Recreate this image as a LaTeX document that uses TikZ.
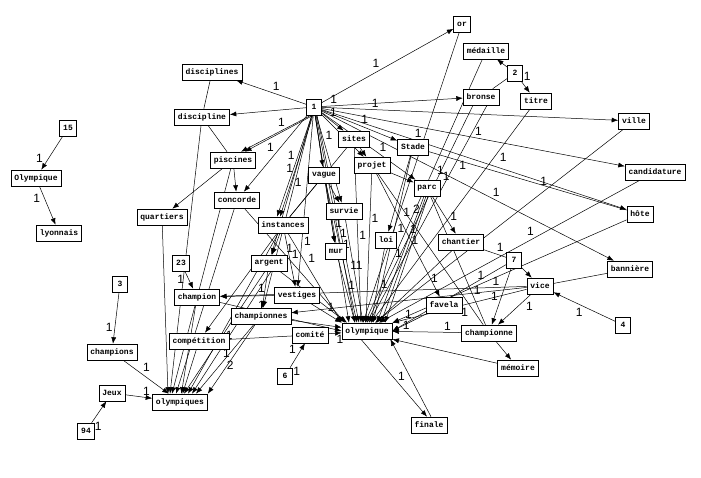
\documentclass[tikz,border=0pt]{standalone}
\usepackage{fontspec}
\setmonofont{Liberation Mono}
\setsansfont{Liberation Sans}
\usetikzlibrary{arrows.meta}
\pgfdeclarelayer{bg}
\pgfsetlayers{bg,main}
\begin{document}
\begin{tikzpicture}[x=1pt,y=-1pt,
  nd/.style={draw, line width=0.6pt, fill=white, font=\ttfamily\bfseries\fontsize{8}{9}\selectfont, inner xsep=3.5pt, inner ysep=0pt, minimum height=16pt, minimum width=15pt},
  ed/.style={-{Latex[length=6.5pt,width=5pt]}, line width=0.5pt, auto},
  pl/.style={line width=0.5pt, auto},
  lb/.style={font=\sffamily\fontsize{12}{12}\selectfont, inner sep=1.5pt}]
\useasboundingbox (0,0) rectangle (701,478);
% nodes
\node[nd] (or) at (462,24) {or};
\node[nd] (medaille) at (486,51) {médaille};
\node[nd] (two) at (515,73) {2};
\node[nd] (bronse) at (481,97) {bronse};
\node[nd] (titre) at (536,101) {titre};
\node[nd] (ville) at (634,121) {ville};
\node[nd] (disciplines) at (212,72) {disciplines};
\node[nd] (one) at (314,107) {1};
\node[nd] (discipline) at (202,117) {discipline};
\node[nd] (sites) at (354,139) {sites};
\node[nd] (stade) at (413,147) {Stade};
\node[nd] (piscines) at (233,160) {piscines};
\node[nd] (projet) at (372,165) {projet};
\node[nd] (vague) at (324,175) {vague};
\node[nd] (candidature) at (655,172) {candidature};
\node[nd] (parc) at (427,188) {parc};
\node[nd] (concorde) at (237,200) {concorde};
\node[nd] (survie) at (344,211) {survie};
\node[nd] (hote) at (640,214) {hôte};
\node[nd] (quartiers) at (162,217) {quartiers};
\node[nd] (instances) at (283,225) {instances};
\node[nd] (loi) at (386,240) {loi};
\node[nd] (chantier) at (461,242) {chantier};
\node[nd] (mur) at (336,251) {mur};
\node[nd] (argent) at (269,263) {argent};
\node[nd] (seven) at (514,260) {7};
\node[nd] (n23) at (181,263) {23};
\node[nd] (banniere) at (630,269) {bannière};
\node[nd] (three) at (120,284) {3};
\node[nd] (vice) at (540,286) {vice};
\node[nd] (champion) at (197,297) {champion};
\node[nd] (vestiges) at (297,295) {vestiges};
\node[nd] (favela) at (444,305) {favela};
\node[nd] (championnes) at (261,316) {championnes};
\node[nd] (comite) at (310,335) {comité};
\node[nd] (olympique) at (367,331) {olympique};
\node[nd] (championne) at (489,333) {championne};
\node[nd] (competition) at (199,341) {compétition};
\node[nd] (four) at (623,325) {4};
\node[nd] (champions) at (112,352) {champions};
\node[nd] (six) at (285,376) {6};
\node[nd] (memoire) at (518,368) {mémoire};
\node[nd] (jeux) at (112,393) {Jeux};
\node[nd] (olympiques) at (180,402) {olympiques};
\node[nd] (finale) at (429,425) {finale};
\node[nd] (n94) at (86,431) {94};
\node[nd] (n15) at (68,128) {15};
\node[nd] (Olymp) at (36,178) {Olympique};
\node[nd] (lyonnais) at (59,233) {lyonnais};
\begin{pgfonlayer}{bg}
\fill[white] (0,0) rectangle (701,478);
% hub 1
\draw[ed] (one) -- node[lb,pos=.45]{1} (or);
\draw[ed] (one) -- node[lb,pos=.5,swap]{1} (disciplines);
\draw[ed] (one) -- (discipline);
\draw[ed] (one) -- node[lb,pos=.12]{1} (bronse);
\draw[ed] (one) -- node[lb,pos=.18]{1} (ville);
\draw[ed] (one) -- node[lb,pos=.5]{1} (candidature);
\draw[ed] (one) -- node[lb,pos=.3]{1} (hote);
\draw[ed] (one) -- node[lb,pos=.58]{1} (banniere);
\draw[ed] (one) -- node[lb,pos=.3]{1} (sites);
\draw[ed] (one) -- node[lb,pos=.5]{1} (stade);
\draw[ed] (one) -- (projet);
\draw[ed] (one) -- node[lb,pos=.6]{1} (parc);
\draw[ed] ([xshift=-3pt]one.south) -- node[lb,pos=.35,swap]{1} ([xshift=8pt]piscines.north);
\draw[ed] ([xshift=-1pt]one.south) -- ([xshift=12pt]piscines.north);
\draw[ed] (one) -- node[lb,pos=.5,swap]{1} (concorde);
\draw[ed] (one) -- (vague);
\draw[ed] (one) -- node[lb,pos=.3]{1} (survie);
\draw[ed] ([xshift=-2pt]one.south) -- node[lb,pos=.45,swap]{1} ([xshift=-6pt]instances.north);
\draw[ed] ([xshift=-1pt]one.south) -- node[lb,pos=.6]{1} ([xshift=-3pt]instances.north);
\draw[ed] (one) -- node[lb,pos=.42,swap]{1} (argent);
\draw[ed] (one) -- node[lb,pos=.7]{1} (vestiges);
\draw[ed] (one) -- (mur);
\draw[ed] ([xshift=1pt]one.south) -- node[lb,pos=.55]{1} ([xshift=-18pt]olympique.north);
\draw[ed] ([xshift=2pt]one.south) -- node[lb,pos=.65]{1} ([xshift=-12pt]olympique.north);
\draw[ed] ([xshift=3pt]one.south) -- node[lb,pos=.75]{1} ([xshift=-8pt]olympique.north);
\draw[ed] (one) -- node[lb,pos=.93,swap]{1} (championnes);
% top right
\draw[ed] (two) -- (medaille);
\draw[ed] (two) -- node[lb,pos=.1]{1} (titre);
\draw[pl] (two) -- (bronse);
\draw[ed] (or) -- node[lb,pos=.6]{1} ([xshift=-4pt]olympique.north);
\draw[ed] (medaille) -- node[lb,pos=.4]{1} ([xshift=-2pt]olympique.north);
\draw[ed] ([xshift=-8pt]bronse.south) -- node[lb,pos=.3]{1} (olympique.north);
\draw[ed] ([xshift=6pt]bronse.south) -- node[lb,pos=.25]{1} ([xshift=2pt]olympique.north);
\draw[ed] (titre) -- node[lb,pos=.2]{1} ([xshift=4pt]olympique.north);
\draw[ed] (ville) -- node[lb,pos=.3,swap]{1} ([xshift=8pt]olympique.north);
\draw[ed] (candidature) -- node[lb,pos=.4,swap]{1} ([xshift=12pt]olympique.north);
\draw[ed] (hote) -- node[lb,pos=.6,swap]{1} (olympique.north east);
\draw[pl] (banniere) -- (vice);
% middle
\draw[ed] (sites) -- (projet);
\draw[ed] (sites) -- node[lb,pos=.5]{1} ([xshift=-6pt]olympique.north);
\draw[pl] (sites) -- (instances);
\draw[ed] (stade) -- (loi);
\draw[ed] (stade) -- node[lb,pos=.4]{1} ([xshift=6pt]olympique.north);
\draw[pl] (stade) -- (hote);
\draw[ed] (projet) -- (parc);
\draw[ed] (projet) -- node[lb,pos=.3]{1} ([xshift=-1pt]olympique.north);
\draw[ed] (projet) -- node[lb,pos=.5]{1} (favela);
\draw[pl] (projet) -- (championne);
\draw[ed] (parc) -- node[lb,pos=.7]{1} (chantier);
\draw[ed] ([xshift=-3pt]parc.south) -- node[lb,pos=.3]{1} ([xshift=10pt]olympique.north);
\draw[ed] ([xshift=-1pt]parc.south) -- node[lb,pos=.5,swap]{1} ([xshift=14pt]olympique.north);
\draw[ed] ([xshift=1pt]parc.south) -- node[lb,pos=.15,swap]{2} ([xshift=18pt]olympique.north);
\draw[pl] (parc) -- (championne);
\draw[ed] (vague) -- (survie);
\draw[ed] (vague) -- (mur);
\draw[ed] (vague) -- node[lb,pos=.4]{1} ([xshift=-10pt]olympique.north);
\draw[pl] (vague) -- (instances);
\draw[ed] (survie) -- node[lb,pos=.5]{1} ([xshift=-4pt]olympique.north);
\draw[ed] (mur) -- node[lb,pos=.5]{1} ([xshift=-12pt]olympique.north);
\draw[ed] (instances) -- (argent);
\draw[ed] (instances) -- node[lb,pos=.5]{1} (vestiges);
\draw[ed] (instances) -- node[lb,pos=.6]{1} ([xshift=8pt]olympiques.north);
\draw[ed] (instances) -- node[lb,pos=.35]{1} (olympique.north west);
\draw[ed] (argent) -- (championnes);
\draw[ed] ([xshift=-4pt]argent.south) -- ([xshift=4pt]olympiques.north);
\draw[ed] ([xshift=2pt]argent.south) -- ([xshift=12pt]olympiques.north);
\draw[ed] (argent) -- ([xshift=-20pt]olympique.north);
\draw[ed] (concorde) -- ([xshift=-4pt]olympiques.north);
\draw[ed] (concorde) -- node[lb,pos=.4]{1} ([xshift=-22pt]olympique.north);
\draw[ed] (piscines) -- (quartiers);
\draw[ed] (piscines) -- (concorde);
\draw[ed] (piscines) -- ([xshift=-8pt]olympiques.north);
\draw[ed] (quartiers) -- ([xshift=-12pt]olympiques.north);
\draw[ed] (discipline) -- ([xshift=-10pt]olympiques.north);
\draw[pl] (disciplines) -- (discipline);
\draw[pl] (discipline) -- (piscines);
\draw[ed] (n23) -- node[lb,pos=.1,swap]{1} (champion);
\draw[ed] (champion) -- (olympiques);
\draw[ed] (champion) -- node[lb,pos=.3]{1} (olympique.west);
\draw[ed] (vestiges) -- (champion);
\draw[ed] (vestiges) -- node[lb,pos=.5]{1} (olympique.north west);
\draw[ed] (championnes) -- (olympique);
\draw[ed] (championnes) -- node[lb,pos=.5]{2} ([xshift=16pt]olympiques.north);
\draw[ed] (championnes) -- node[lb,pos=.5,swap]{1} (olympiques.north east);
\draw[ed] (instances) -- (competition);
% right side
\draw[ed] (vice) -- node[lb,pos=.1,swap]{1} (champion);
\draw[ed] (vice) -- (championnes);
\draw[ed] (vice) -- node[lb,pos=.5]{1} (olympique.north east);
\draw[ed] (vice) -- node[lb,pos=.2]{1} (championne);
\draw[ed] (seven) -- (vice);
\draw[ed] (seven) -- node[lb,pos=.6,swap]{1} (championne);
\draw[ed] (seven) -- node[lb,pos=.3]{1} (olympique.east);
\draw[ed] (favela) -- node[lb,pos=.4,swap]{1} (olympique.east);
\draw[ed] (chantier) -- node[lb,pos=.3]{1} (olympique);
\draw[pl] (chantier) -- node[lb,pos=.5]{1} (seven);
\draw[ed] (loi) -- node[lb,pos=.4]{1} ([xshift=4pt]olympique.north);
\draw[ed] (championne) -- node[lb,pos=.2,swap]{1} node[lb,pos=.8,swap]{1} (olympique);
\draw[ed] (championne) -- (memoire);
\draw[ed] (memoire) -- (olympique.south east);
\draw[ed] ([xshift=-6pt]olympique.south) -- ([xshift=-2pt]finale.north);
\draw[ed] ([xshift=2pt]finale.north) -- node[lb,pos=.6]{1} ([xshift=-2pt]olympique.south east);
\draw[ed] (four) -- node[lb,pos=.5]{1} (vice);
% lower left
\draw[ed] (comite) -- node[lb,pos=.5,swap]{1} (olympique);
\draw[ed] (six) -- node[lb,pos=.1,swap]{1} node[lb,pos=.5]{1} (comite);
\draw[pl] (competition) -- (comite);
\draw[ed] (competition) -- (olympiques);
\draw[ed] (three) -- node[lb,pos=.8,swap]{1} (champions);
\draw[ed] (champions) -- node[lb,pos=.4]{1} (olympiques);
\draw[ed] (jeux) -- node[lb,pos=.6]{1} (olympiques);
\draw[ed] (n94) -- node[lb,pos=.1,swap]{1} (jeux);
\draw[ed] (n15) -- node[lb,pos=.85,swap]{1} (Olymp);
\draw[ed] (Olymp) -- node[lb,pos=.15,swap]{1} (lyonnais);
\end{pgfonlayer}
\end{tikzpicture}
\end{document}
